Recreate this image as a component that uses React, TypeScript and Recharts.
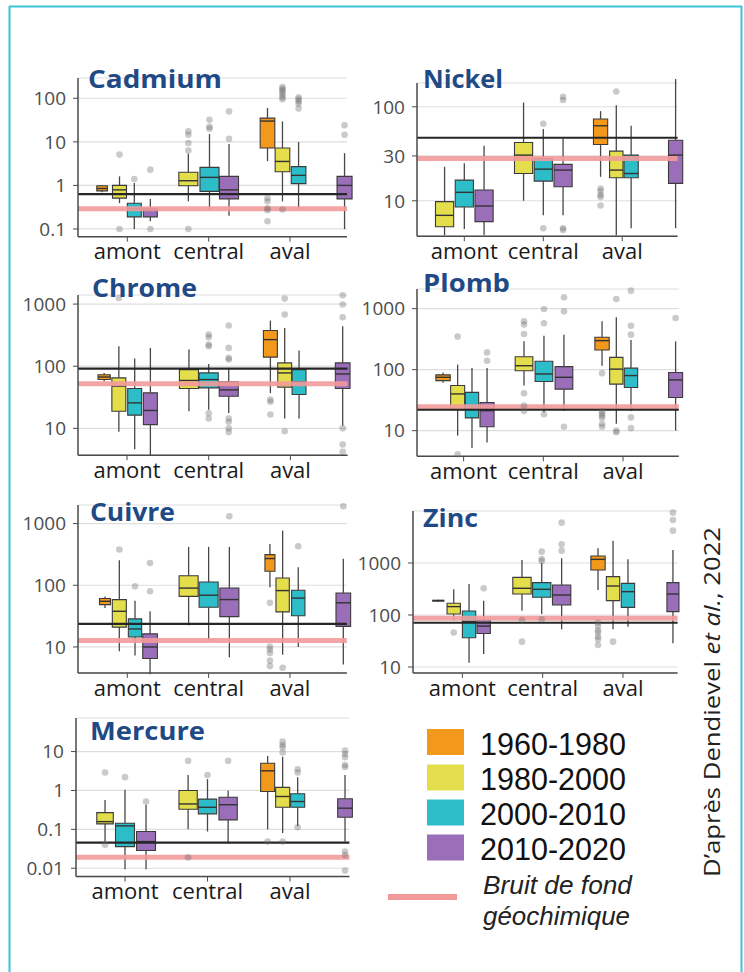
import React from 'react';
import { ComposedChart, XAxis, YAxis, CartesianGrid, ReferenceArea, ReferenceLine, Scatter } from 'recharts';

const SITES = ['amont', 'central', 'aval'];
const PERIODS = ['1960-1980', '1980-2000', '2000-2010', '2010-2020'];
const PERIOD_COLORS = ['#f2981b', '#e4dd4c', '#2dbdc8', '#9a6eb8'];
const BG_LABEL = ['Bruit de fond', 'géochimique'];

type Box = { site: string; period: string; min: number; q1: number; med: number; q3: number; max: number; out: number[] };
const b = (site: string, period: string, min: number, q1: number, med: number, q3: number, max: number, out: number[] = []): Box =>
  ({ site, period, min, q1, med, q3, max, out });

// ---------- data ----------
const cadmiumBoxes = [
  b('amont', '1960-1980', 0.7, 0.75, 0.85, 0.98, 1.02),
  b('amont', '1980-2000', 0.39, 0.51, 0.79, 1.0, 1.61, [5.1, 0.1]),
  b('amont', '2000-2010', 0.1, 0.19, 0.29, 0.39, 1.13, [1.4]),
  b('amont', '2010-2020', 0.15, 0.19, 0.27, 0.3, 0.49, [2.3, 0.1]),
  b('central', '1980-2000', 0.43, 0.98, 1.28, 2.0, 5.3, [17.4, 14.6, 9.4, 6.3, 0.1]),
  b('central', '2000-2010', 0.28, 0.73, 1.53, 2.6, 15, [32, 22, 20]),
  b('central', '2010-2020', 0.2, 0.49, 0.79, 1.61, 8.9, [50, 11.8]),
  b('aval', '1960-1980', 3.6, 7.2, 30, 35, 60, [0.51, 0.43, 0.3, 0.27, 0.15]),
  b('aval', '1980-2000', 0.43, 2.05, 3.55, 7.2, 29.5, [180, 165, 150, 135, 120, 105, 95, 0.28]),
  b('aval', '2000-2010', 0.29, 1.1, 1.7, 2.7, 9.9, [105, 95, 85, 75, 58]),
  b('aval', '2010-2020', 0.1, 0.49, 1.0, 1.61, 5.5, [24, 14.6]),
];
const nickelBoxes = [
  b('amont', '1980-2000', 4.3, 5.3, 7.0, 9.8, 23),
  b('amont', '2000-2010', 5.0, 8.6, 12.3, 16.6, 25),
  b('amont', '2010-2020', 4.3, 6.0, 8.8, 13, 38.5),
  b('central', '1980-2000', 10, 19.5, 30.6, 41.7, 111),
  b('central', '2000-2010', 7.0, 16.2, 21.7, 28.2, 58, [66, 5.1]),
  b('central', '2010-2020', 7.0, 14.1, 21.2, 24.4, 46, [128, 118, 5.1, 4.9]),
  b('aval', '1960-1980', 18, 39.7, 62.8, 74, 90, [13.5, 12.7, 11.5, 11.0, 8.9]),
  b('aval', '1980-2000', 4.3, 17.6, 21.2, 33.7, 104, [145]),
  b('aval', '2000-2010', 5.1, 17.6, 19.5, 30.6, 63),
  b('aval', '2010-2020', 5.1, 15.3, 30.6, 44, 197),
];
const chromeBoxes = [
  b('amont', '1960-1980', 57, 61, 67, 73, 78),
  b('amont', '1980-2000', 8.8, 18.9, 47.7, 65, 210, [1250]),
  b('amont', '2000-2010', 4.6, 16.3, 25.7, 43.8, 133),
  b('amont', '2010-2020', 3.6, 11.5, 19.4, 37.3, 197),
  b('central', '1980-2000', 18.9, 43.8, 59, 88, 185),
  b('central', '2000-2010', 20, 44.8, 61, 78, 109, [323, 293, 223, 210, 17.5, 14.4]),
  b('central', '2010-2020', 17.7, 32.9, 41.6, 56, 94, [451, 197, 136, 128, 14.4, 12.8, 10, 8.7]),
  b('aval', '1960-1980', 37, 140, 268, 375, 543, [29, 26.8, 16.7]),
  b('aval', '1980-2000', 14.4, 46, 78, 113, 414, [1225, 678, 9]),
  b('aval', '2000-2010', 14.4, 35, 56, 88, 179),
  b('aval', '2010-2020', 11, 43.8, 75, 113, 440, [1387, 982, 614, 10, 5.5, 4.2]),
];
const plombBoxes = [
  b('amont', '1960-1980', 61, 66, 75, 82, 90),
  b('amont', '1980-2000', 8.3, 22, 40, 55, 121, [348, 4.1]),
  b('amont', '2000-2010', 5.2, 16.2, 22.6, 42.5, 106),
  b('amont', '2010-2020', 6.4, 11.6, 21.3, 29, 106, [192, 140]),
  b('central', '1980-2000', 55, 96, 116, 163, 291, [619, 548, 384, 41, 25.7, 21]),
  b('central', '2000-2010', 20, 64, 85, 137, 361, [988, 575, 18.5]),
  b('central', '2010-2020', 21, 48, 75, 112, 375, [1534, 903, 11.6]),
  b('aval', '1960-1980', 116, 210, 299, 339, 619, [87, 21, 19.2, 17.6, 16.2, 12.8, 11.6]),
  b('aval', '1980-2000', 13, 58, 102, 159, 721, [1440, 10, 9.4]),
  b('aval', '2000-2010', 21, 51, 80, 106, 306, [1972, 526, 375, 16.5, 11]),
  b('aval', '2010-2020', 10, 35, 68, 90, 291, [703]),
];
const cuivreBoxes = [
  b('amont', '1960-1980', 43, 48.6, 55, 61, 66),
  b('amont', '1980-2000', 8.5, 21, 37.9, 58.6, 254, [379]),
  b('amont', '2000-2010', 7.3, 14.5, 19.6, 28.5, 56, [96]),
  b('amont', '2010-2020', 3.6, 6.5, 10, 16.3, 38, [230, 80]),
  b('central', '1980-2000', 22.4, 66, 90, 143, 419),
  b('central', '2000-2010', 12.7, 44, 69, 113, 419),
  b('central', '2010-2020', 6.8, 31, 58.6, 90.5, 419, [1316]),
  b('aval', '1960-1980', 93, 169, 271, 314, 468, [52, 10.2, 9.1, 8, 6.0, 4.9]),
  b('aval', '1980-2000', 7.5, 37, 82, 131, 769, [4.6]),
  b('aval', '2000-2010', 10, 32, 62, 83, 196, [429]),
  b('aval', '2010-2020', 5.2, 21.6, 52, 75, 270, [1910]),
];
const zincBoxes = [
  b('amont', '1960-1980', 180, 185, 189, 192, 196),
  b('amont', '1980-2000', 78, 104.5, 145, 168, 312, [46]),
  b('amont', '2000-2010', 12.1, 36.6, 74.5, 119, 394),
  b('amont', '2010-2020', 17.8, 44, 61, 80, 188, [326]),
  b('central', '1980-2000', 121, 253, 326, 530, 1143, [80, 30.7]),
  b('central', '2000-2010', 104, 219, 312, 419, 1000, [1652, 1190, 1090, 82.5]),
  b('central', '2010-2020', 53, 156, 242, 377, 1230, [5970, 2285, 1726]),
  b('aval', '1960-1980', 302, 733, 1175, 1365, 1914, [71, 61.5, 51, 46, 38, 34, 26.5]),
  b('aval', '1980-2000', 53, 189, 361, 546, 2690, [30.7]),
  b('aval', '2000-2010', 59.6, 140, 281, 406, 1178),
  b('aval', '2010-2020', 28.5, 116, 253, 419, 1778, [9290, 6710, 4190]),
];
const mercureBoxes = [
  b('amont', '1980-2000', 0.0485, 0.138, 0.158, 0.27, 0.57, [2.9, 0.04]),
  b('amont', '2000-2010', 0.0094, 0.036, 0.123, 0.144, 1.04, [2.2]),
  b('amont', '2010-2020', 0.0094, 0.0285, 0.0485, 0.088, 0.43, [0.52]),
  b('central', '1980-2000', 0.1, 0.33, 0.45, 1.0, 2.5, [5.75, 0.019]),
  b('central', '2000-2010', 0.088, 0.25, 0.37, 0.6, 1.95, [2.5]),
  b('central', '2010-2020', 0.044, 0.175, 0.43, 0.67, 1.0, [5.75]),
  b('aval', '1960-1980', 0.1, 0.94, 3.2, 5.0, 7.7, [0.0485]),
  b('aval', '1980-2000', 0.08, 0.37, 0.7, 1.2, 7.4, [18, 14.8, 12.9, 9.4, 0.0485]),
  b('aval', '2000-2010', 0.12, 0.37, 0.52, 0.82, 2.2, [3.5, 2.9, 0.113]),
  b('aval', '2010-2020', 0.0485, 0.205, 0.35, 0.61, 2.5, [10.6, 8.7, 7.15, 4.5, 4.0, 0.027, 0.022, 0.0087]),
];

// thresholds [black reference, geochemical background]
const cadmiumRefs = [0.63, 0.29];
const nickelRefs = [46.8, 28.2];
const chromeRefs = [91.7, 52];
const plombRefs = [22, 24.7];
const cuivreRefs = [23.6, 12.7];
const zincRefs = [71, 86.3];
const mercureRefs = [0.0458, 0.0192];

// ---------- layout (dodge offsets / widths, in category units) ----------
const cadmiumSlots = [[-0.31, 0.13], [-0.096, 0.172], [0.086, 0.172], [0.283, 0.172], [-0.25, 0.234], [0.01, 0.234], [0.25, 0.234], [-0.277, 0.18], [-0.093, 0.18], [0.105, 0.18], [0.67, 0.185]];
const nickelSlots = [[-0.25, 0.23], [0, 0.23], [0.25, 0.23], [-0.25, 0.23], [0, 0.23], [0.25, 0.23], [-0.275, 0.18], [-0.076, 0.17], [0.112, 0.18], [0.675, 0.18]];
const chromeSlots = [[-0.28, 0.15], [-0.1, 0.171], [0.094, 0.171], [0.286, 0.171], [-0.242, 0.233], [0, 0.233], [0.245, 0.233], [-0.245, 0.171], [-0.07, 0.17], [0.106, 0.17], [0.64, 0.18]];
const plombSlots = [[-0.258, 0.18], [-0.075, 0.176], [0.105, 0.167], [0.294, 0.176], [-0.242, 0.222], [0.008, 0.222], [0.259, 0.222], [-0.263, 0.18], [-0.084, 0.167], [0.1, 0.167], [0.66, 0.176]];
const cuivreSlots = [[-0.274, 0.135], [-0.098, 0.172], [0.095, 0.164], [0.28, 0.18], [-0.246, 0.234], [0, 0.234], [0.255, 0.234], [-0.246, 0.123], [-0.09, 0.164], [0.102, 0.164], [0.656, 0.18]];
const zincSlots = [[-0.3, 0.14], [-0.108, 0.166], [0.083, 0.166], [0.265, 0.166], [-0.258, 0.228], [-0.012, 0.228], [0.236, 0.228], [-0.311, 0.178], [-0.124, 0.166], [0.062, 0.166], [0.622, 0.15]];
const mercureSlots = [[-0.242, 0.2], [0, 0.23], [0.255, 0.23], [-0.235, 0.222], [0, 0.222], [0.25, 0.222], [-0.271, 0.17], [-0.089, 0.17], [0.093, 0.17], [0.667, 0.178]];

type Cfg = {
  name: string; boxes: Box[]; slots: number[][]; refs: number[];
  left: number; top: number; w: number; h: number;
  xDomain: number[]; yDomain: number[]; yTicks: number[];
  title: [number, number, number];
};

const panels: Cfg[] = [
  { name: 'Cadmium', boxes: cadmiumBoxes, slots: cadmiumSlots, refs: cadmiumRefs, left: 78, top: 78, w: 269, h: 158.7, xDomain: [0.394, 3.7], yDomain: [0.0665, 292], yTicks: [0.1, 1, 10, 100], title: [88, 88, 134] },
  { name: 'Nickel', boxes: nickelBoxes, slots: nickelSlots, refs: nickelRefs, left: 416.7, top: 82.8, w: 260.6, h: 153.2, xDomain: [0.401, 3.7], yDomain: [4.2, 179], yTicks: [10, 30, 100], title: [423, 88, 80] },
  { name: 'Chrome', boxes: chromeBoxes, slots: chromeSlots, refs: chromeRefs, left: 78.3, top: 294.8, w: 269.6, h: 160.2, xDomain: [0.4, 3.7], yDomain: [3.7, 1400], yTicks: [10, 100, 1000], title: [92, 296.7, 105] },
  { name: 'Plomb', boxes: plombBoxes, slots: plombSlots, refs: plombRefs, left: 416.7, top: 289.4, w: 261.8, h: 167.3, xDomain: [0.415, 3.7], yDomain: [3.8, 2100], yTicks: [10, 100, 1000], title: [423, 291.7, 87] },
  { name: 'Cuivre', boxes: cuivreBoxes, slots: cuivreSlots, refs: cuivreRefs, left: 78.3, top: 504.8, w: 268.9, h: 167.9, xDomain: [0.394, 3.7], yDomain: [3.8, 2000], yTicks: [10, 100, 1000], title: [90, 520.7, 85] },
  { name: 'Zinc', boxes: zincBoxes, slots: zincSlots, refs: zincRefs, left: 413.3, top: 510.8, w: 264.6, h: 161.9, xDomain: [0.385, 3.68], yDomain: [7.7, 10000], yTicks: [10, 100, 1000], title: [423, 526.7, 55] },
  { name: 'Mercure', boxes: mercureBoxes, slots: mercureSlots, refs: mercureRefs, left: 76, top: 718.1, w: 273.4, h: 158.6, xDomain: [0.406, 3.72], yDomain: [0.0061, 73], yTicks: [0.01, 0.1, 1, 10], title: [90, 740, 115] },
];

const FONT = "'Open Sans', 'Noto Sans', sans-serif";
const LEG_FONT = "'Liberation Sans', Arial, sans-serif";
const AXIS = '#4a4a4a';

const Dot = (p: any) => <circle cx={p.cx} cy={p.cy} r={3.3} fill="#6b6b6b" fillOpacity={0.36} />;

function Panel({ cfg }: { cfg: Cfg }) {
  const YW = 70, MT = 20, MR = 24, XH = 45, MB = 6;
  const items = cfg.boxes.map((bx, i) => {
    const [off, bw] = cfg.slots[i];
    const xc = SITES.indexOf(bx.site) + 1 + off;
    return { ...bx, xc, x1: xc - bw / 2, x2: xc + bw / 2, color: PERIOD_COLORS[PERIODS.indexOf(bx.period)] };
  });
  const outliers = items.flatMap((it) => it.out.map((v) => ({ x: it.xc, y: v })));
  return (
    <div style={{ position: 'absolute', left: cfg.left - YW, top: cfg.top - MT }}>
      <ComposedChart width={YW + cfg.w + MR} height={MT + cfg.h + XH + MB} margin={{ top: MT, right: MR, bottom: MB, left: 0 }}>
        <CartesianGrid vertical={false} stroke="#dedede" strokeWidth={1.2} />
        <XAxis
          type="number" dataKey="x" domain={cfg.xDomain} ticks={[1, 2, 3]} interval={0}
          tickFormatter={(v: number) => SITES[v - 1]} height={XH} tickSize={5} tickMargin={2}
          tick={{ fontFamily: FONT, fontSize: 22, fill: '#1a1a1a' }}
          axisLine={{ stroke: AXIS, strokeWidth: 1.5 }} tickLine={{ stroke: AXIS }}
        />
        <YAxis
          type="number" dataKey="y" scale="log" domain={cfg.yDomain} ticks={cfg.yTicks} interval={0}
          width={YW} tickSize={5} tickMargin={7} tickFormatter={(v: number) => String(v)}
          tick={{ fontFamily: FONT, fontSize: 19, fill: '#4d4d4d' }}
          axisLine={{ stroke: AXIS, strokeWidth: 1.5 }} tickLine={{ stroke: AXIS }}
        />
        {items.map((it, i) => (
          <ReferenceLine key={'wl' + i} segment={[{ x: it.xc, y: it.min }, { x: it.xc, y: it.q1 }]} stroke="#474747" strokeWidth={1.3} ifOverflow="visible" />
        ))}
        {items.map((it, i) => (
          <ReferenceLine key={'wh' + i} segment={[{ x: it.xc, y: it.q3 }, { x: it.xc, y: it.max }]} stroke="#474747" strokeWidth={1.3} ifOverflow="visible" />
        ))}
        {items.map((it, i) => (
          <ReferenceArea key={'bx' + i} x1={it.x1} x2={it.x2} y1={it.q1} y2={it.q3} fill={it.color} fillOpacity={1} stroke="#3b3b3b" strokeWidth={1.1} ifOverflow="visible" />
        ))}
        {items.map((it, i) => (
          <ReferenceLine key={'md' + i} segment={[{ x: it.x1, y: it.med }, { x: it.x2, y: it.med }]} stroke="#333" strokeWidth={1.4} ifOverflow="visible" />
        ))}
        <Scatter data={outliers} dataKey="y" isAnimationActive={false} shape={Dot} />
        <ReferenceLine y={cfg.refs[1]} stroke="#f29a9a" strokeWidth={5} strokeOpacity={0.9} />
        <ReferenceLine y={cfg.refs[0]} stroke="#262626" strokeWidth={2.2} />
      </ComposedChart>
    </div>
  );
}

const legendRows = [729, 764.5, 799.5, 834.5];

export default function App() {
  return (
    <div style={{ position: 'absolute', left: 0, top: 0, width: 744, height: 972, background: '#fff', overflow: 'hidden', fontFamily: FONT }}>
      {panels.map((p) => <Panel key={p.name} cfg={p} />)}
      <svg width={744} height={972} style={{ position: 'absolute', left: 0, top: 0, pointerEvents: 'none' }}>
        {/* frame */}
        <line x1={9.5} y1={6} x2={9.5} y2={972} stroke="#3cc5d8" strokeWidth={2} />
        <line x1={9} y1={6.5} x2={742} y2={6.5} stroke="#3cc5d8" strokeWidth={2} />
        <line x1={741.5} y1={6} x2={741.5} y2={972} stroke="#3cc5d8" strokeWidth={2} />
        {/* titles */}
        {panels.map((p) => (
          <text key={'t' + p.name} x={p.title[0]} y={p.title[1]} fontFamily={FONT} fontWeight={700} fontSize={25.5}
            fill="#1f4a85" textLength={p.title[2]} lengthAdjust="spacingAndGlyphs">{p.name}</text>
        ))}
        {/* legend */}
        {PERIODS.map((per, i) => (
          <g key={per}>
            <rect x={427} y={legendRows[i]} width={37} height={26} fill={PERIOD_COLORS[i]} />
            <text x={480} y={legendRows[i] + 25.5} fontFamily={LEG_FONT} fontSize={30.5} fill="#111" textLength={146} lengthAdjust="spacingAndGlyphs">{per}</text>
          </g>
        ))}
        <line x1={388} y1={897} x2={457} y2={897} stroke="#f29a9a" strokeWidth={6} />
        <text x={483} y={894} fontFamily={LEG_FONT} fontStyle="italic" fontSize={25.5} fill="#222" textLength={149} lengthAdjust="spacingAndGlyphs">{BG_LABEL[0]}</text>
        <text x={483} y={925} fontFamily={LEG_FONT} fontStyle="italic" fontSize={25.5} fill="#222" textLength={147} lengthAdjust="spacingAndGlyphs">{BG_LABEL[1]}</text>
        {/* credit */}
        <text transform="translate(720 877) rotate(-90)" x={0} y={0} fontFamily={FONT} fontSize={21} fill="#222" textLength={350} lengthAdjust="spacingAndGlyphs">
          D’après Dendievel <tspan fontStyle="italic">et al.</tspan>, 2022
        </text>
      </svg>
    </div>
  );
}
